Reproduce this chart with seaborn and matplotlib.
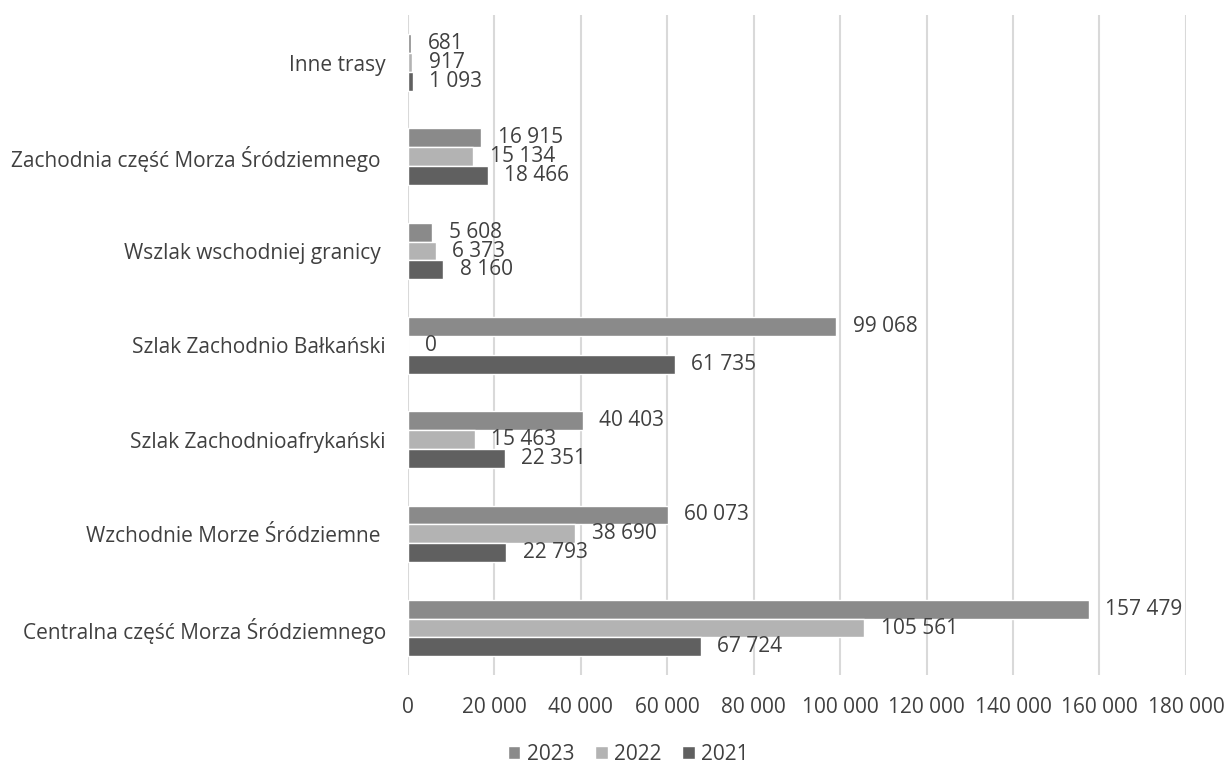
import pandas as pd
import matplotlib
matplotlib.use("Agg")
import matplotlib.pyplot as plt
import seaborn as sns
from matplotlib.patches import Patch

# Data
routes = [
    "Inne trasy",
    "Zachodnia część Morza Śródziemnego ",
    "Wszlak wschodniej granicy ",
    "Szlak Zachodnio Bałkański",
    "Szlak Zachodnioafrykański",
    "Wzchodnie Morze Śródziemne ",
    "Centralna część Morza Śródziemnego",
]
years = ["2023", "2022", "2021"]
v2023 = [681, 16915, 5608, 99068, 40403, 60073, 157479]
v2022 = [917, 15134, 6373, 0, 15463, 38690, 105561]
v2021 = [1093, 18466, 8160, 61735, 22351, 22793, 67724]
xticks = list(range(0, 180001, 20000))

colors = {"2023": "#8a8a8a", "2022": "#b3b3b3", "2021": "#606060"}
text_color = "#404040"
fs = 15

df = pd.DataFrame({"route": routes, "2023": v2023, "2022": v2022, "2021": v2021})
df = df.melt(id_vars="route", var_name="year", value_name="value")

sns.set_style("white")
plt.rcParams["font.family"] = ["Open Sans", "DejaVu Sans"]

fig = plt.figure(figsize=(12.27, 7.69), dpi=100)
ax = fig.add_axes([0.3325, 0.122, 0.634, 0.858])

sns.barplot(
    data=df, y="route", x="value", hue="year",
    order=routes, hue_order=years, palette=colors,
    width=0.6, orient="h", legend=False, ax=ax,
)

def fmt(v):
    return f"{v:,}".replace(",", " ")

for container, year in zip(ax.containers, years):
    vals = df[df["year"] == year].set_index("route").loc[routes, "value"]
    ax.bar_label(container, labels=[fmt(v) for v in vals], padding=12,
                 fontsize=fs, color=text_color)

ax.set_xlim(0, 180000)
ax.set_xticks(xticks)
ax.set_xticklabels([fmt(t) for t in xticks], fontsize=fs, color=text_color)
ax.tick_params(axis="x", length=0, pad=16)
ax.tick_params(axis="y", length=0, pad=16, labelsize=fs, labelcolor=text_color)
ax.set_xlabel("")
ax.set_ylabel("")
ax.grid(axis="x", color="#d9d9d9", linewidth=1.5)
ax.set_axisbelow(True)
for s in ["top", "right", "bottom", "left"]:
    ax.spines[s].set_visible(False)

handles = [Patch(facecolor=colors[y], label=y) for y in years]
fig.legend(handles=handles, loc="lower center", ncol=3, frameon=False,
           bbox_to_anchor=(0.512, -0.012), borderpad=0.15, fontsize=fs,
           handlelength=0.6, handleheight=0.6, handletextpad=0.3,
           columnspacing=1.0, labelcolor=text_color)

fig.savefig("out.png", dpi=100)
